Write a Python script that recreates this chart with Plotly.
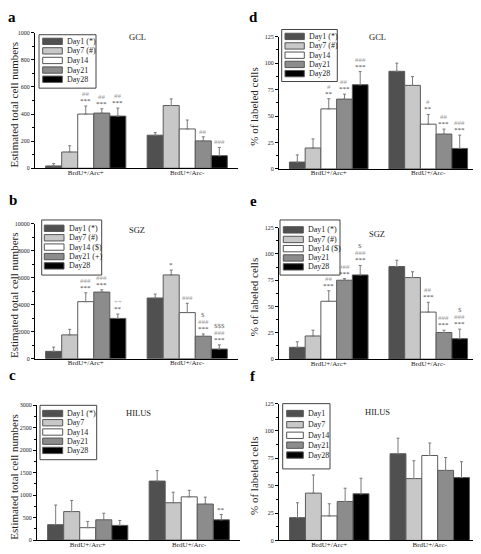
import plotly.graph_objects as go

# The page has an 8px body margin, so the figure is made 8px smaller on each
# side and all layout coordinates below are in page pixels (shifted by OFF).
PAGE_W, PAGE_H = 481, 554
OFF = 8
W, H = PAGE_W - OFF, PAGE_H - OFF
FONT = "Liberation Serif, Times New Roman, serif"

days = ["Day1", "Day7", "Day14", "Day21", "Day28"]
groups = ["BrdU+/Arc+", "BrdU+/Arc-"]
colors = ["#505050", "#c8c8c8", "#ffffff", "#8c8c8c", "#000000"]

# values per day: [Arc+, Arc-]
a_vals = [[17, 244], [120, 463], [400, 290], [407, 202], [385, 93]]
a_err = [[17, 19], [46, 49], [59, 66], [32, 30], [59, 61]]
b_vals = [[540, 4490], [1760, 6200], [4220, 3410], [4930, 1660], [2980, 710]]
b_err = [[310, 290], [410, 360], [660, 690], [170, 170], [320, 310]]
c_vals = [[343, 1314], [635, 832], [277, 963], [452, 803], [328, 452]]
c_err = [[438, 233], [248, 234], [139, 146], [146, 153], [110, 117]]
d_vals = [[6.5, 92.3], [19.8, 79.0], [56.8, 42.3], [66.0, 33.0], [79.6, 19.4]]
d_err = [[6.8, 7.7], [8.6, 8.3], [9.6, 9.2], [4.7, 4.7], [12.4, 12.6]]
e_vals = [[11.2, 88.0], [22.0, 77.5], [55.0, 44.7], [75.0, 25.3], [80.0, 19.4]]
e_err = [[5.3, 6.0], [5.5, 5.5], [10.0, 9.3], [1.5, 2.2], [9.0, 9.1]]
f_vals = [[20.8, 79.2], [43.2, 56.5], [22.4, 77.6], [35.6, 64.0], [42.6, 57.4]]
f_err = [[13.6, 14.2], [16.6, 16.3], [11.1, 11.4], [12.1, 11.8], [14.2, 14.5]]

a_legend = ["Day1 (*)", "Day7 (#)", "Day14", "Day21", "Day28"]
b_legend = ["Day1 (*)", "Day7 (#)", "Day14 ($)", "Day21 (+)", "Day28"]
c_legend = ["Day1 (*)", "Day7", "Day14", "Day21", "Day28"]
d_legend = ["Day1 (*)", "Day7 (#)", "Day14", "Day21", "Day28"]
e_legend = ["Day1 (*)", "Day7 (#)", "Day14 ($)", "Day21", "Day28"]
f_legend = ["Day1", "Day7", "Day14", "Day21", "Day28"]

# significance marks: (group index, day index, lines from bottom to top)
a_marks = [(0, 2, ["***", "##"]), (0, 3, ["***", "##"]), (0, 4, ["***", "##"]),
           (1, 3, ["##"]), (1, 4, ["###"])]
b_marks = [(0, 2, ["***", "###"]), (0, 3, ["***", "###"]), (0, 4, ["**", "++"]),
           (1, 1, ["*"]), (1, 2, ["###"]), (1, 3, ["***", "###", "$"]),
           (1, 4, ["***", "###", "$$$"])]
c_marks = [(1, 4, ["**"])]
d_marks = [(0, 2, ["**", "#"]), (0, 3, ["***", "##"]), (0, 4, ["***", "###"]),
           (1, 2, ["**", "#"]), (1, 3, ["***", "##"]), (1, 4, ["***", "###"])]
e_marks = [(0, 2, ["***", "##"]), (0, 3, ["***", "###"]), (0, 4, ["***", "###", "$"]),
           (1, 2, ["***", "##"]), (1, 3, ["***", "###"]), (1, 4, ["***", "###", "$"])]
f_marks = []

LEFT_TITLE = "Estimated total cell numbers"
RIGHT_TITLE = "% of labeled cells"


def px(x):
    return (x - OFF) / W


def py(y):
    return 1 - (y - OFF) / H


panels = [
    dict(letter="a", region="GCL", vals=a_vals, err=a_err, marks=a_marks, leg=a_legend,
         xd=(35, 238), yd=(30, 167), ymax=1000, dtick=200, title=LEFT_TITLE, tx=14,
         lx=12, ly=14, rx=137, ry=34, box=(39, 32, 96, 86), sw=(42.7, 62.3), textx=65,
         rows=[38.7, 48.3, 58.0, 67.7, 77.0]),
    dict(letter="b", region="SGZ", vals=b_vals, err=b_err, marks=b_marks, leg=b_legend,
         xd=(35, 238), yd=(223, 359.5), ymax=10000, dtick=2000, title=LEFT_TITLE, tx=14,
         lx=13, ly=199, rx=137, ry=229, box=(41.7, 219.3, 101.7, 275), sw=(44.3, 64), textx=66.7,
         rows=[227.7, 237.3, 246.7, 256.3, 265.7]),
    dict(letter="c", region="HILUS", vals=c_vals, err=c_err, marks=c_marks, leg=c_legend,
         xd=(37, 240), yd=(406.7, 543), ymax=3000, dtick=500, title=LEFT_TITLE, tx=14,
         lx=12, ly=376.5, rx=138, ry=414, box=(40, 406.7, 96.7, 461.7), sw=(42.7, 62.7), textx=65,
         rows=[415, 424.3, 433.7, 443, 452.3]),
    dict(letter="d", region="GCL", vals=d_vals, err=d_err, marks=d_marks, leg=d_legend,
         xd=(279, 478), yd=(34, 167.7), ymax=125, dtick=25, title=RIGHT_TITLE, tx=254,
         lx=253, ly=14, rx=377, ry=34, box=(281.7, 26.7, 337.3, 79.3), sw=(285, 304.3), textx=306.7,
         rows=[33.7, 43.3, 52.7, 62, 71.3]),
    dict(letter="e", region="SGZ", vals=e_vals, err=e_err, marks=e_marks, leg=e_legend,
         xd=(279, 478), yd=(227, 360), ymax=125, dtick=25, title=RIGHT_TITLE, tx=254,
         lx=253, ly=200.5, rx=377, ry=233, box=(280, 219.3, 340, 275), sw=(283.3, 303.3), textx=306,
         rows=[229.3, 239, 248.3, 257.7, 266.7]),
    dict(letter="f", region="HILUS", vals=f_vals, err=f_err, marks=f_marks, leg=f_legend,
         xd=(279, 480), yd=(405, 543.3), ymax=125, dtick=25, title=RIGHT_TITLE, tx=254,
         lx=253, ly=377, rx=377, ry=413, box=(282.7, 405, 330, 471), sw=(286.7, 303.3), textx=306,
         rows=[415, 426.3, 437, 447, 457]),
]

BARGAP = 0.21
mark_colors = {"*": "#3c3c3c", "#": "#9a9a9a", "$": "#6e6e6e", "+": "#ababab"}

fig = go.Figure()
annotations = []
shapes = []
layout = {}

for i, p in enumerate(panels):
    n = "" if i == 0 else str(i + 1)
    xa, ya = "x" + n, "y" + n
    for di, day in enumerate(days):
        fig.add_trace(go.Bar(
            x=groups, y=p["vals"][di], name=day, xaxis=xa, yaxis=ya,
            marker=dict(color=colors[di], line=dict(color="#5a5a5a", width=1)),
            error_y=dict(type="data", symmetric=False, array=p["err"][di],
                         arrayminus=[0] * len(groups), color="#7a7a7a",
                         thickness=1, width=1.5),
            showlegend=False, hoverinfo="skip"))
    layout["xaxis" + n] = dict(
        domain=[px(p["xd"][0]), min(1, px(p["xd"][1]))], anchor=ya, type="category",
        showline=True, linecolor="black", linewidth=1, ticks="", showgrid=False,
        zeroline=False, ticklabelstandoff=-3,
        tickfont=dict(family=FONT, size=7, color="#222"))
    layout["yaxis" + n] = dict(
        domain=[py(p["yd"][1]), py(p["yd"][0])], anchor=xa, range=[0, p["ymax"]],
        dtick=p["dtick"], tick0=0, tickformat="d", showline=True, linecolor="black",
        linewidth=1, ticks="outside", ticklen=3, tickwidth=1, tickcolor="black",
        showgrid=False, zeroline=False,
        minor=dict(ticks="outside", ticklen=2, dtick=p["dtick"] / 2, tickcolor="black"),
        tickfont=dict(family=FONT, size=6, color="#222"))

    # significance marks
    bw = (1 - BARGAP) / len(days)
    for gi, di, lines in p["marks"]:
        top = p["vals"][di][gi] + p["err"][di][gi]
        for li, txt in enumerate(lines):
            annotations.append(dict(
                x=gi + (di - 2) * bw, y=top, xref=xa, yref=ya, text=txt, showarrow=False,
                xanchor="center", yanchor="middle", yshift=5 + 7 * li,
                font=dict(family=FONT, size=7, color=mark_colors[txt[0]])))

    # panel letter, region name, y title
    annotations.append(dict(x=px(p["lx"]), y=py(p["ly"]), xref="paper", yref="paper",
                            text="<b>%s</b>" % p["letter"], showarrow=False,
                            xanchor="center", yanchor="middle",
                            font=dict(family=FONT, size=15, color="black")))
    annotations.append(dict(x=px(p["rx"]), y=py(p["ry"]), xref="paper", yref="paper",
                            text=p["region"], showarrow=False, xanchor="center",
                            yanchor="middle", font=dict(family=FONT, size=8.5, color="#222")))
    annotations.append(dict(x=px(p["tx"]), y=py((p["yd"][0] + p["yd"][1]) / 2 + 4),
                            xref="paper", yref="paper", text=p["title"], showarrow=False,
                            textangle=-90, xanchor="center", yanchor="middle",
                            font=dict(family=FONT, size=11, color="#222")))

    # legend box drawn as layout shapes
    bx0, by0, bx1, by1 = p["box"]
    shapes.append(dict(type="rect", xref="paper", yref="paper", x0=px(bx0), x1=px(bx1),
                       y0=py(by1), y1=py(by0), line=dict(color="#444", width=1),
                       fillcolor="white", layer="above"))
    for di, lab in enumerate(p["leg"]):
        yc = p["rows"][di]
        shapes.append(dict(type="rect", xref="paper", yref="paper",
                           x0=px(p["sw"][0]), x1=px(p["sw"][1]),
                           y0=py(yc + 3.2), y1=py(yc - 3.2),
                           line=dict(color="#555", width=1), fillcolor=colors[di],
                           layer="above"))
        annotations.append(dict(x=px(p["textx"]), y=py(yc), xref="paper", yref="paper",
                                text=lab, showarrow=False, xanchor="left", yanchor="middle",
                                font=dict(family=FONT, size=8, color="#222")))

fig.update_layout(
    width=W, height=H, autosize=False, margin=dict(l=0, r=0, t=0, b=0),
    paper_bgcolor="white", plot_bgcolor="white", barmode="group",
    bargap=BARGAP, bargroupgap=0, showlegend=False,
    annotations=annotations, shapes=shapes, font=dict(family=FONT), **layout)

fig.write_html("out.html")
